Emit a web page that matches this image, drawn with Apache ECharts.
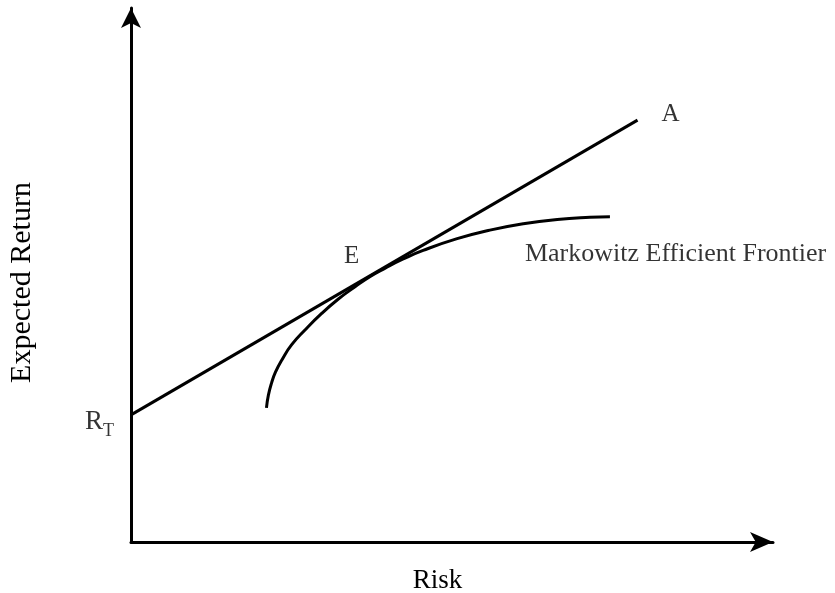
<!DOCTYPE html>
<html>
<head>
<meta charset="utf-8">
<script src="https://cdn.jsdelivr.net/npm/echarts@6/dist/echarts.min.js"></script>
<style>
  html, body { margin: 0; padding: 0; background: #fff; }
  #chart { width: 835px; height: 593px; }
</style>
</head>
<body>
<div id="chart"></div>
<script>
// Capital market line: from the risk-free rate R_T through tangency E out to A
const cmlRisk = [0, 7.89];
const cmlReturn = [2.38, 7.90];

// Markowitz efficient frontier (risk, expected return)
const frontierRisk = [2.11, 2.14, 2.19, 2.25, 2.35, 2.50, 2.71, 2.97, 3.23, 3.49, 3.72, 3.96, 4.24, 4.55, 5.08, 5.59, 6.11, 6.64, 7.15, 7.46];
const frontierReturn = [2.51, 2.75, 2.98, 3.18, 3.41, 3.69, 3.97, 4.28, 4.55, 4.78, 4.97, 5.13, 5.30, 5.46, 5.68, 5.84, 5.96, 6.04, 6.08, 6.09];

// Tangency portfolio E
const tangencyPoint = [3.84, 5.07];

const serif = '"Liberation Serif", "Times New Roman", serif';
const ink = '#000';

const zip = (xs, ys) => xs.map((x, i) => [x, ys[i]]);
const lastIdx = frontierRisk.length - 1;

const chart = echarts.init(document.getElementById('chart'), null, { renderer: 'canvas' });

chart.setOption({
  backgroundColor: '#fff',
  animation: false,
  grid: { left: 131, right: 62, top: 8, bottom: 51, containLabel: false, outerBoundsMode: 'none' },
  xAxis: {
    type: 'value', min: 0, max: 10,
    name: 'Risk', nameLocation: 'middle', nameGap: 25,
    nameTextStyle: { fontFamily: serif, fontSize: 27, color: ink, padding: [0, 29, 0, 0] },
    axisLine: { show: true, lineStyle: { color: ink, width: 3 }, symbol: ['none', 'arrow'], symbolSize: [15, 23] },
    axisTick: { show: false }, axisLabel: { show: false }, splitLine: { show: false }
  },
  yAxis: {
    type: 'value', min: 0, max: 10,
    name: 'Expected Return', nameLocation: 'middle', nameGap: 94, nameRotate: 90,
    nameTextStyle: { fontFamily: serif, fontSize: 30, color: ink, padding: [0, 15, 0, 0] },
    axisLine: { show: true, onZero: false, lineStyle: { color: ink, width: 3 }, symbol: ['none', 'arrow'], symbolSize: [15, 20] },
    axisTick: { show: false }, axisLabel: { show: false }, splitLine: { show: false }
  },
  series: [
    {
      name: 'Capital Market Line', type: 'line',
      data: zip(cmlRisk, cmlReturn),
      showSymbol: false, symbol: 'none',
      lineStyle: { color: ink, width: 3 }
    },
    {
      name: 'Markowitz Efficient Frontier', type: 'line',
      data: zip(frontierRisk, frontierReturn),
      smooth: 0.5, showSymbol: false, symbol: 'none',
      lineStyle: { color: ink, width: 3 }
    },
    {
      name: 'labels', type: 'scatter', symbolSize: 0, silent: true,
      label: { show: true, color: ink, fontFamily: serif },
      data: [
        {
          value: [cmlRisk[0], cmlReturn[0]],
          label: {
            position: 'left', distance: 17, offset: [0, 9],
            formatter: '{r|R}{t|T}',
            rich: {
              r: { fontFamily: serif, fontSize: 27, color: ink, lineHeight: 32, verticalAlign: 'top' },
              t: { fontFamily: serif, fontSize: 18, color: ink, lineHeight: 18, verticalAlign: 'bottom' }
            }
          }
        },
        {
          value: [cmlRisk[1], cmlReturn[1]],
          label: { position: 'right', distance: 24, offset: [0, -6], formatter: 'A', fontSize: 25 }
        },
        {
          value: tangencyPoint,
          label: { position: 'inside', offset: [-26, -15], formatter: 'E', fontSize: 25 }
        },
        {
          value: [frontierRisk[lastIdx], frontierReturn[lastIdx]],
          label: { position: 'inside', align: 'left', offset: [-85, 37], formatter: 'Markowitz Efficient Frontier', fontSize: 26 }
        }
      ]
    }
  ]
});
</script>
</body>
</html>
